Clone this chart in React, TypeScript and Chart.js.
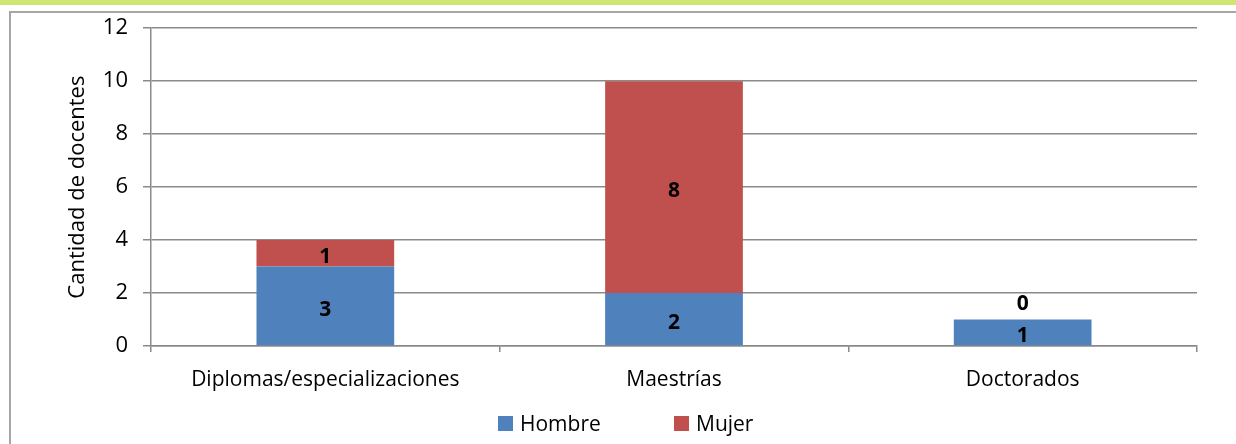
import React, { useEffect, useRef } from "react";
import { Chart, registerables } from "chart.js";

Chart.register(...registerables);

const categories = ["Diplomas/especializaciones", "Maestrías", "Doctorados"];
const hombre = [3, 2, 1];
const mujer = [1, 8, 0];
const seriesNames = ["Hombre", "Mujer"];
const seriesColors = ["#4f81bd", "#c0504d"];
const yTitle = "Cantidad de docentes";

const FONT = "'Open Sans', 'Noto Sans', sans-serif";
const GRID = "#8a8a8a";

const valueLabels = {
  id: "valueLabels",
  afterDatasetsDraw(chart: any) {
    const ctx = chart.ctx;
    ctx.save();
    ctx.font = `bold 21px ${FONT}`;
    ctx.fillStyle = "#000";
    ctx.textAlign = "center";
    ctx.textBaseline = "middle";
    chart.data.datasets.forEach((ds: any, di: number) => {
      const meta = chart.getDatasetMeta(di);
      meta.data.forEach((bar: any, i: number) => {
        const v = ds.data[i];
        const { x, y, base } = bar.getProps(["x", "y", "base"], true);
        let cy = (y + base) / 2 + 4;
        if (v === 0) cy = y - 16;
        ctx.fillText(String(v), x, cy);
      });
    });
    ctx.restore();
  },
};

const customLegend = {
  id: "customLegend",
  afterDraw(chart: any) {
    const ctx = chart.ctx;
    ctx.save();
    ctx.font = `21px ${FONT}`;
    ctx.textBaseline = "middle";
    ctx.textAlign = "left";
    const starts = [498, 674];
    const cy = 424;
    chart.data.datasets.forEach((ds: any, i: number) => {
      const x = starts[i];
      ctx.fillStyle = ds.backgroundColor;
      ctx.fillRect(x, cy - 8, 15, 15);
      ctx.fillStyle = "#000";
      ctx.fillText(ds.label, x + 22, cy + 1);
    });
    ctx.restore();
  },
};

export default function App() {
  const ref = useRef<HTMLCanvasElement>(null);
  useEffect(() => {
    document.body.style.margin = "0";
    const chart = new Chart(ref.current!, {
      type: "bar",
      data: {
        labels: categories,
        datasets: [
          { label: seriesNames[0], data: hombre, backgroundColor: seriesColors[0] },
          { label: seriesNames[1], data: mujer, backgroundColor: seriesColors[1] },
        ],
      },
      options: {
        animation: false,
        responsive: false,
        maintainAspectRatio: false,
        datasets: { bar: { barPercentage: 0.395, categoryPercentage: 1 } },
        layout: { padding: { left: 65, top: 27, right: 39, bottom: 38 } },
        plugins: { legend: { display: false }, tooltip: { enabled: false } },
        scales: {
          x: {
            stacked: true,
            afterFit: (s: any) => { s.height = 60; },
            grid: { drawOnChartArea: false, drawTicks: true, tickLength: 6, color: GRID, lineWidth: 1.5, offset: true },
            border: { color: GRID, width: 1.5 },
            ticks: { color: "#000", font: { family: FONT, size: 21 }, padding: 15, maxRotation: 0 },
          },
          y: {
            stacked: true,
            min: 0,
            max: 12,
            afterFit: (s: any) => { s.width = 86; },
            ticks: { stepSize: 2, color: "#000", font: { family: FONT, size: 22 }, padding: 15 },
            grid: { color: GRID, tickLength: 8, lineWidth: 1.5 },
            border: { color: GRID, width: 1.5 },
            title: { display: true, text: yTitle, color: "#000", font: { family: FONT, size: 22 }, padding: 0 },
          },
        },
      },
      plugins: [valueLabels, customLegend],
    });
    return () => chart.destroy();
  }, []);
  return (
    <div style={{ position: "relative", width: 1236, height: 444, overflow: "hidden", background: "#fff" }}>
      <div style={{ position: "absolute", left: 0, top: 0, width: 1236, height: 5, background: "#d0e673" }} />
      <div style={{ position: "absolute", left: 9, top: 11, width: 1400, height: 600, border: "2px solid #a6a6a6" }} />
      <canvas ref={ref} width={1236} height={444} style={{ position: "absolute", left: 0, top: 0 }} />
    </div>
  );
}
